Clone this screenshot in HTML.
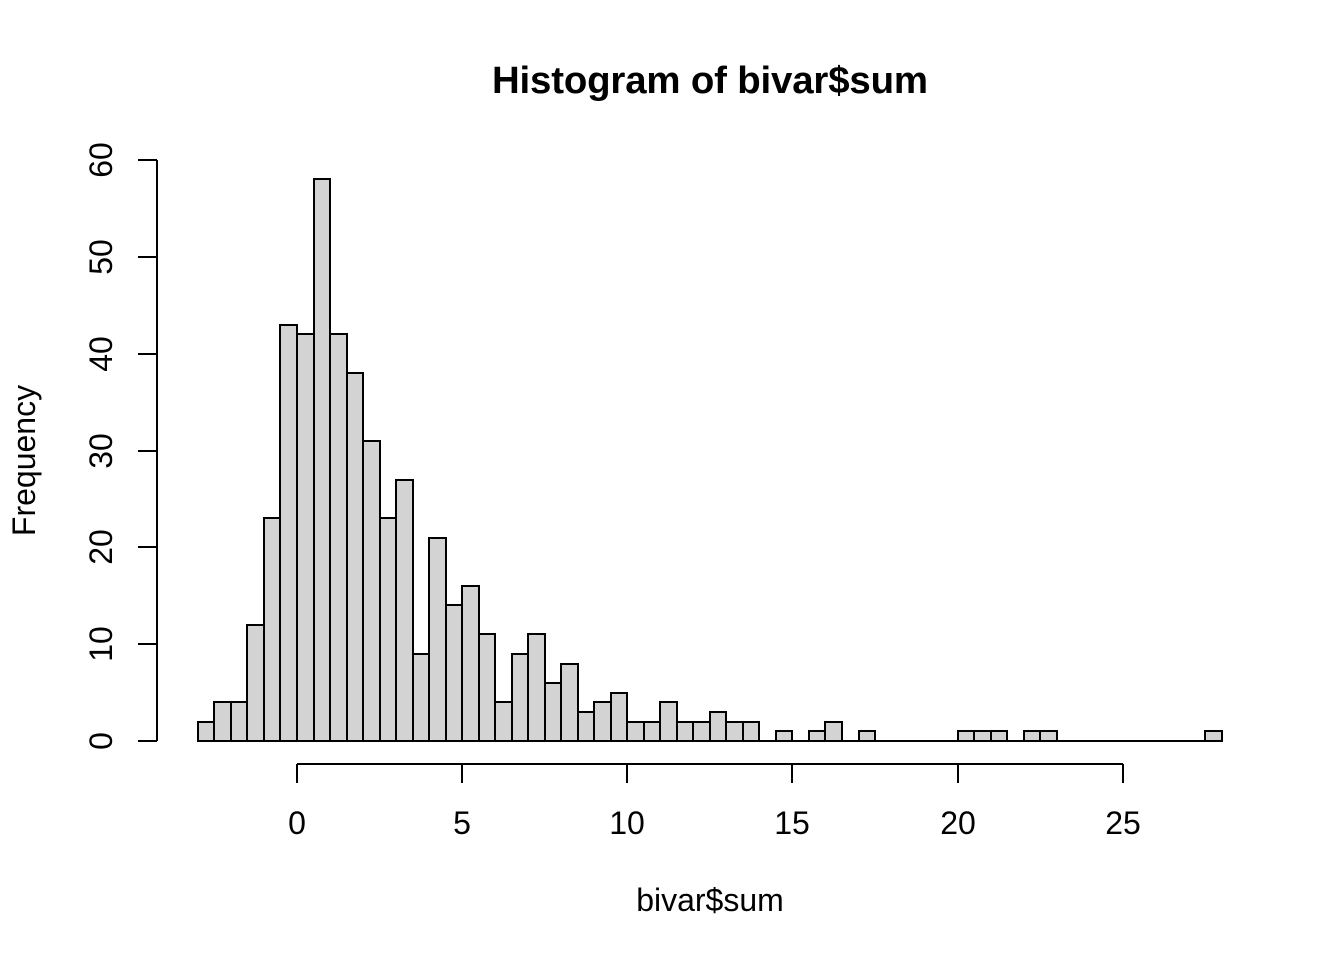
<!DOCTYPE html>
<html lang="en">
<head>
<meta charset="utf-8">
<title>Histogram of bivar$sum</title>
<style>
  html, body { margin: 0; padding: 0; background: #fff; }
  svg { display: block; }
  text { font-family: "Liberation Sans", Arial, sans-serif; fill: #000; }
</style>
</head>
<body>
<svg id="chart" xmlns="http://www.w3.org/2000/svg" width="1344" height="960" viewBox="0 0 1344 960">
  <rect x="0" y="0" width="1344" height="960" fill="#ffffff"></rect>
  <text x="710" y="93" text-anchor="middle" font-size="38.4" font-weight="700" textLength="436" lengthAdjust="spacing">Histogram of bivar$sum</text>
  <text x="710" y="911" text-anchor="middle" font-size="32">bivar$sum</text>
  <text x="35" y="460.5" text-anchor="middle" font-size="32" transform="rotate(-90 35 460.5)">Frequency</text>
  <g id="bars"></g>
  <g id="x-axis"></g>
  <g id="y-axis"></g>
</svg>
<script>
const binStart = -3;
const binWidth = 0.5;
const counts = [2,4,4,12,23,43,42,58,42,38,31,23,27,9,21,14,16,11,4,9,11,6,8,3,4,5,2,2,4,2,2,3,2,2,0,1,0,1,2,0,1,0,0,0,0,0,1,1,1,0,1,1,0,0,0,0,0,0,0,0,0,1];
const xTicks = [0,5,10,15,20,25];
const yTicks = [0,10,20,30,40,50,60];

const NS = 'http://www.w3.org/2000/svg';
const xScale = v => 297 + v * 33.03;
const yScale = v => 741 - v * (741 - 160) / 60;
const px = v => Math.round(v);

function mk(tag, parent, attrs) {
  const el = document.createElementNS(NS, tag);
  for (const k in attrs) el.setAttribute(k, attrs[k]);
  parent.appendChild(el);
  return el;
}
const lineStyle = { stroke: '#000', 'stroke-width': 2, 'shape-rendering': 'crispEdges', fill: 'none' };

const barsG = document.getElementById('bars');
counts.forEach((c, i) => {
  const x0 = px(xScale(binStart + i * binWidth));
  const x1 = px(xScale(binStart + (i + 1) * binWidth));
  const y0 = px(yScale(0));
  const y1 = px(yScale(c));
  const bar = mk('path', barsG, {
    d: `M${x0} ${y0}V${y1}H${x1}V${y0}Z`,
    fill: '#d3d3d3', stroke: '#000', 'stroke-width': 2,
    'shape-rendering': 'crispEdges', 'stroke-linejoin': 'miter'
  });
  
  
});

const xG = document.getElementById('x-axis');
const xAxisY = 764, xTickEnd = 783;
const xDomain = mk('line', xG, Object.assign({ x1: px(xScale(xTicks[0])), x2: px(xScale(xTicks[xTicks.length - 1])), y1: xAxisY, y2: xAxisY }, lineStyle));


xTicks.forEach(t => {
  const x = px(xScale(t));
  const tick = mk('line', xG, Object.assign({ x1: x, x2: x, y1: xAxisY, y2: xTickEnd }, lineStyle));
  
  
  const label = mk('text', xG, { x: x, y: 834, 'text-anchor': 'middle', 'font-size': 32 });
  label.textContent = String(t);
  
  
});

const yG = document.getElementById('y-axis');
const yAxisX = 157, yTickEnd = 138;
const yDomain = mk('line', yG, Object.assign({ x1: yAxisX, x2: yAxisX, y1: px(yScale(yTicks[0])), y2: px(yScale(yTicks[yTicks.length - 1])) }, lineStyle));


yTicks.forEach(t => {
  const y = px(yScale(t));
  const tick = mk('line', yG, Object.assign({ x1: yTickEnd, x2: yAxisX, y1: y, y2: y }, lineStyle));
  
  
  const label = mk('text', yG, { x: 112, y: y, 'text-anchor': 'middle', 'font-size': 32, transform: `rotate(-90 112 ${y})` });
  label.textContent = String(t);
  
  
});
</script>
</body>
</html>
